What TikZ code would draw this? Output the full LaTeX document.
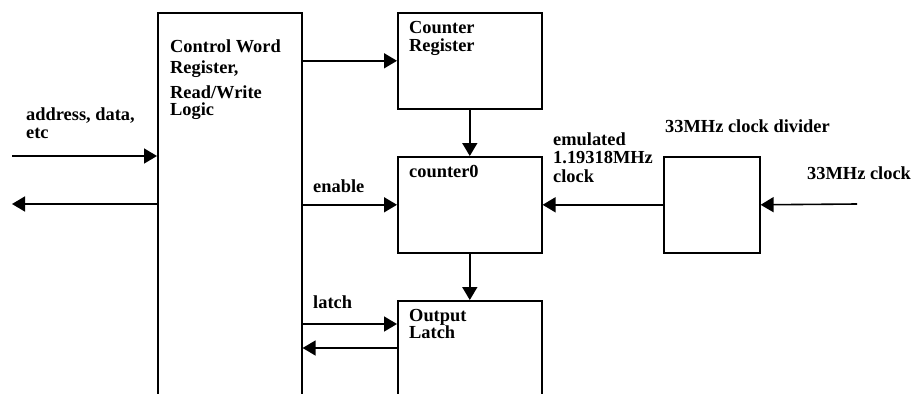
\documentclass[tikz,border=0pt]{standalone}
\usepackage{fontspec}
\setmainfont{Liberation Serif}
\usetikzlibrary{arrows.meta}
\tikzset{
  blk/.style={draw, line width=1.6pt, rectangle, inner sep=0pt, anchor=north west},
  arr/.style={line width=1.6pt, -{Triangle[length=13pt,width=15pt]}},
  lbl/.style={inner sep=0pt, anchor=base west, align=left,
    font=\bfseries\fontsize{18.4}{17.8}\selectfont},
}
\begin{document}
\begin{tikzpicture}[x=1pt,y=-1pt]
  \useasboundingbox (0,0) rectangle (914,394);
  \clip (0,0) rectangle (914,394);
  % blocks (the open ones run past the lower edge)
  \node[blk, minimum width=144pt, minimum height=420pt] (ctl) at (157,12) {};
  \node[blk, minimum width=144pt, minimum height=96pt] (creg) at (397,12) {};
  \node[blk, minimum width=144pt, minimum height=96pt] (c0) at (397,156) {};
  \node[blk, minimum width=144pt, minimum height=140pt] (latch) at (397,300) {};
  \node[blk, minimum width=96pt, minimum height=96pt] (div) at (663,156) {};
  % free ends
  \coordinate (busin) at (12,156);
  \coordinate (busout) at (12,204);
  \coordinate (clkin) at (857,204);
  \coordinate (lin) at ([yshift=-24pt]latch.north west);
  \coordinate (lout) at ([yshift=-48pt]latch.north west);
  % connectors
  \draw[arr] (busin) -- (ctl.west |- busin);
  \draw[arr] (ctl.west |- busout) -- (busout);
  \draw[arr] (ctl.east |- creg.west) -- (creg.west);
  \draw[arr] (ctl.east |- c0.west) -- (c0.west);
  \draw[arr] (creg.south) -- (c0.north);
  \draw[arr] (c0.south) -- (latch.north);
  \draw[arr] (div.west) -- (c0.east);
  \draw[arr] (clkin) -- (div.east);
  \draw[arr] (ctl.east |- lin) -- (lin);
  \draw[arr] (lout) -- (ctl.east |- lout);
  % labels
  \node[lbl] (t1) at (170,52) {Control Word};
  \node[lbl] (t2) at (170,73) {Register,};
  \node[lbl] (t3) at (170,98) {Read/Write};
  \node[lbl] (t4) at (170,115) {Logic};
  \node[lbl] (t5) at (26,120) {address, data,};
  \node[lbl] (t6) at (26,138) {etc};
  \node[lbl] (t7) at (409,33) {Counter};
  \node[lbl] (t8) at (409,51) {Register};
  \node[lbl] (t9) at (409,177) {counter0};
  \node[lbl] (t10) at (313,192) {enable};
  \node[lbl] (t11) at (553,145) {emulated};
  \node[lbl] (t12) at (553,163.5) {1.19318MHz};
  \node[lbl] (t13) at (553,182) {clock};
  \node[lbl] (t14) at (665,132) {33MHz clock divider};
  \node[lbl] (t15) at (807,179) {33MHz clock};
  \node[lbl] (t16) at (313,308) {latch};
  \node[lbl] (t17) at (409,321) {Output};
  \node[lbl] (t18) at (409,338.5) {Latch};
\end{tikzpicture}
\end{document}
